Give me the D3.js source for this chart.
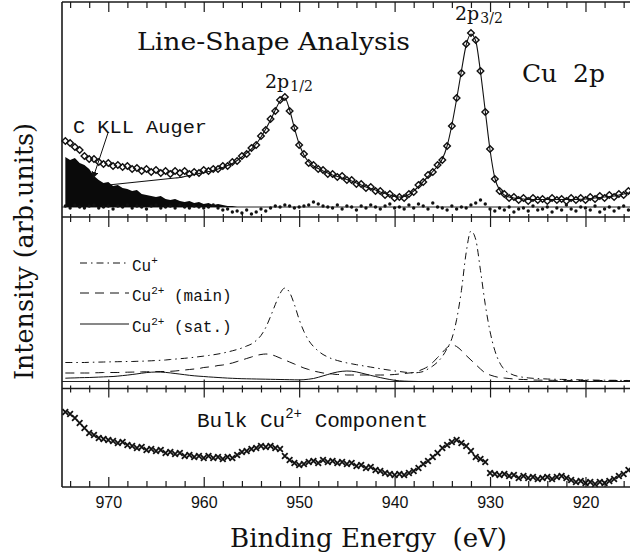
<!DOCTYPE html>
<html>
<head>
<meta charset="utf-8">
<script src="https://cdn.jsdelivr.net/npm/d3@7"></script>
<style>
  body { margin: 0; background: #fff; }
  text { fill: #111; }
</style>
</head>
<body>
<div id="chart"></div>
<script>
// Cu 2p spectrum, values on a 0.5 eV grid (974.5 -> 915.0 eV)
var energy = d3.range(974.5, 914.9, -0.5);

// top panel: measured data (diamonds), fit, residuals, C KLL Auger
var measured = [
  66,64,60,57,51,48,48,45,43,44,
  41,42,40,41,38,39,36,38,35,37,
  34,36,33,36,34,36,33,35,34,37,
  36,38,38,41,41,45,46,51,53,59,
  62,71,77,88,96,107,110,96,79,62,
  53,44,42,38,37,33,33,30,31,27,
  27,23,23,19,20,16,16,12,13,9,
  10,9,13,15,22,25,32,35,42,47,
  61,81,109,134,163,174,167,136,95,58,
  28,16,13,9,10,7,9,6,9,7,
  8,6,9,7,8,6,9,7,9,7,
  10,8,11,9,12,10,13,12,16,15
];
var fit = [
  null,null,null,null,null,null,null,null,null,22,
  22.5,23,23.5,24,24.5,25,25.5,26,26.5,27,
  27.5,28,28.5,29,29.5,30.5,31.5,32.5,33.5,34.5,
  35.5,36.5,38,39.5,41.5,43.5,46.5,50,54,58,
  63,70,78,87,97,106,109,97,79,63,
  52,45,41,38.5,36,34,32,30.5,29,27.5,
  26,24,22,20,18.5,17,15,13.5,12,10.5,
  10,10.5,12.5,16,20.5,25.5,30.5,35.5,41,48,
  61,82,108,136,162,173,166,135,96,57,
  29,17,12,10,9,8.5,8,7.5,7.5,7.5,
  7.5,7.5,7.5,7.5,7.5,7.5,7.5,7.5,7.7,8,
  8.5,9,9.5,10,10.5,11,12,13,14,15
];
var residual = [
  1,-1,2,0,-1,1,2,-1,0,1,
  -2,1,0,2,-1,1,0,-2,1,2,
  -1,0,1,-1,2,0,-1,1,0,-1,
  0,2,-1,-3,-2,-5,-4,-6,-3,-7,
  -5,-2,-4,-1,1,0,2,1,-1,0,
  1,2,5,3,1,0,-1,2,-2,1,
  0,-3,1,-1,2,0,-2,1,3,-1,
  0,-2,2,-1,3,1,-2,4,0,-1,
  -3,1,-2,0,-1,2,4,7,3,-2,
  -4,-1,-3,0,-5,-2,-1,-4,1,-3,
  -2,0,-5,-1,-3,2,-2,-4,0,-1,
  -3,1,-5,-2,0,-4,-1,1,-3,-2
];
var auger = [
  50,47,49,44,42,38,31,27,24,25,
  21,22,19,18,16,17,13,12,11,10,
  11,8,7,8,6,5,6,4,5,3,
  4,2,3,2,1,1,0
];

// middle panel: fitted components
var cuPlus = [
  19,19,19,19,19,19.2,19.3,19.4,19.5,19.6,
  19.7,19.8,19.9,20,20,20.2,20.3,20.5,20.7,21,
  21.2,21.5,22,22.4,22.8,23.2,23.7,24.2,24.8,25.4,
  26,26.7,27.5,28.4,29.5,30.7,32,33.5,35.5,37.5,
  41,46,54,65,77,88,93.5,89,77,62,
  50,41,35,30.5,27,24.5,22.5,21,19.7,18.6,
  17.7,16.8,16,15.2,14.4,13.6,12.8,12,11.3,10.6,
  10,9.4,8.9,8.6,9,10,12.5,15.5,19.5,25,
  33,43,62,91,129,150.5,142,111,77,50,
  31,19,12,8.5,6.3,5,4.2,3.6,3.2,2.9,
  2.7,2.5,2.3,2.2,2.1,2,1.9,1.8,1.7,1.6,
  1.5,1.4,1.3,1.3,1.2,1.2,1.1,1.1,1,1
];
var cu2Main = [
  8.5,8.5,8.5,8.5,8.5,8.5,8.7,8.8,9,9,
  9,9,9.2,9.3,9.4,9.5,9.6,9.7,9.8,9.9,
  10,10,10.2,10.5,11,11.5,12,12.5,13,14,
  14.5,15,16,16.5,17.5,18.5,20,21.5,23,24.5,
  26,27,27.5,27,25.5,23.5,21.5,19.5,17.5,15.5,
  13.5,12,10.5,9.5,8.5,8,7.5,7,7,6.5,
  6.5,6.5,6.5,6.5,6.5,6.5,6.5,6.5,6.7,7,
  7.5,8,8.5,9,10.5,12.5,15,19,24,29,
  34,36.5,35,31,26,21.5,17,12.5,8.5,6.5,
  5,4,3.5,3,2.5,2.2,2,1.8,1.5,1.4,
  1.3,1.2,1.2,1.1,1.1,1.1,1,1,1,1,
  1,1,1,1,1,1,1,1,1,1
];
var cu2Sat = [
  3.3,3.5,3.6,3.8,3.9,4,4.2,4.4,4.6,4.8,
  5,5.4,5.9,6.4,7,7.6,8.3,8.9,9.3,9.5,
  9.4,9.1,8.6,8,7.4,6.8,6.2,5.7,5.3,5,
  4.6,4.3,4,3.7,3.4,3.2,3,2.8,2.7,2.6,
  2.5,2.4,2.3,2.2,2.1,2,1.9,1.8,1.7,1.6,
  1.8,2.3,3,4.2,5.6,7,8.4,9.5,10.2,10.5,
  10.3,9.6,8.5,7.3,6.1,5,3.9,2.9,2,1.2,
  0.7,0.4,0.2,0.1,0,0,0,0,0,0,
  0,0,0,0,0,0,0,0,0,0,
  0,0,0,0,0,0,0,0,0,0,
  0,0,0,0,0,0,0,0,0,0,
  0,0,0,0,0,0,0,0,0,0
];

// bottom panel: bulk Cu2+ component
var bulk = [
  75,73,69,64,59,54,52,49,48,47,
  46,44,45,42,41,39,40,37,38,36,
  37,34,35,33,34,31,32,30,31,29,
  31,29,30,28,30,29,32,35,36,38,
  39,41,40,41,39,38,31,27,24,22,
  23,25,26,24,27,25,26,24,25,23,
  24,21,22,19,20,17,16,14,13,12,
  13,12,14,16,19,23,26,30,34,39,
  42,45,47,44,41,36,30,28,25,14,
  13,12,13,11,12,9,11,9,10,8,
  9,10,8,10,11,9,7,5,6,4,
  5,3,5,4,6,8,11,13,17,19
];

var majorTicks = [970, 960, 950, 940, 930, 920];
var minorTicks = d3.range(974, 914, -2).filter(function(d) { return d % 10 != 0; });

var width = 630, height = 558;
var serif = "'DejaVu Serif', serif";
var mono = "'Liberation Mono', monospace";

var svg = d3.select("#chart").append("svg")
  .attr("width", width)
  .attr("height", height);

// shared energy axis, reversed
var x = d3.scaleLinear().domain([974.85, 915]).range([62, 633.2]);
// one y scale per panel
var y1 = d3.scaleLinear().domain([-10, 205]).range([217, 2]);
var y2 = d3.scaleLinear().domain([-7, 164.5]).range([388.5, 217]);
var y3 = d3.scaleLinear().domain([0, 98]).range([487, 389]);

function pairs(vals) {
  return vals.map(function(v, i) { return [energy[i], v]; });
}
function lineFor(y) {
  return d3.line()
    .defined(function(d) { return d[1] != null; })
    .x(function(d) { return x(d[0]); })
    .y(function(d) { return y(d[1]); })
    .curve(d3.curveMonotoneX);
}

// frame lines
[2, 217, 388.5, 487].forEach(function(yy) {
  svg.append("line")
    .attr("x1", 62).attr("x2", 634)
    .attr("y1", yy).attr("y2", yy)
    .attr("stroke", "#1a1a1a").attr("stroke-width", 1.6);
});
svg.append("line")
  .attr("x1", 62).attr("x2", 62)
  .attr("y1", 2).attr("y2", 487)
  .attr("stroke", "#1a1a1a").attr("stroke-width", 1.6);

// zero lines of panel 1 and 2
svg.append("line").attr("x1", 62).attr("x2", 634)
  .attr("y1", y1(0)).attr("y2", y1(0))
  .attr("stroke", "#222").attr("stroke-width", 1);
svg.append("line").attr("x1", 62).attr("x2", 634)
  .attr("y1", y2(0)).attr("y2", y2(0))
  .attr("stroke", "#222").attr("stroke-width", 1.2);

// tick rows
function tickRow(yPos, values, up, down) {
  var g = svg.append("g")
    .attr("transform", "translate(0," + yPos + ")")
    .call(d3.axisBottom(x).tickValues(values).tickSize(0).tickFormat(""));
  g.select(".domain").remove();
  g.selectAll(".tick line")
    .attr("y1", -up).attr("y2", down)
    .attr("stroke", "#1a1a1a").attr("stroke-width", 1.2);
}
tickRow(2, minorTicks, 0, 6);
tickRow(2, majorTicks, 0, 10);
tickRow(217, minorTicks, 3, 5);
tickRow(217, majorTicks, 7, 10);
tickRow(388.5, minorTicks, 3, 4);
tickRow(388.5, majorTicks, 9, 9);
tickRow(487, minorTicks, 6, 0);
tickRow(487, majorTicks, 10, 0);

// bottom labels
var xAxis = svg.append("g")
  .attr("transform", "translate(0,487)")
  .call(d3.axisBottom(x).tickValues(majorTicks).tickSize(0).tickPadding(10));
xAxis.select(".domain").remove();
xAxis.selectAll("text")
  .style("font-family", "'Liberation Sans', sans-serif")
  .style("font-size", "16px")
  .attr("fill", "#222");

// ---- panel 1 ----
var augerArea = d3.area()
  .defined(function(d) { return d[1] != null; })
  .x(function(d) { return x(d[0]); })
  .y0(y1(0))
  .y1(function(d) { return y1(d[1]); });
svg.append("path")
  .datum(pairs(auger))
  .attr("d", augerArea)
  .attr("fill", "#0a0a0a");

svg.append("path")
  .datum(pairs(fit))
  .attr("d", lineFor(y1))
  .attr("fill", "none")
  .attr("stroke", "#111")
  .attr("stroke-width", 1.1);

svg.append("g").selectAll("path")
  .data(pairs(measured))
  .join("path")
  .attr("d", d3.symbol(d3.symbolSquare, 22))
  .attr("transform", function(d) { return "translate(" + x(d[0]) + "," + y1(d[1]) + ") rotate(45)"; })
  .attr("fill", "none")
  .attr("stroke", "#111")
  .attr("stroke-width", 1.4);

svg.append("g").selectAll("circle")
  .data(pairs(residual))
  .join("circle")
  .attr("cx", function(d) { return x(d[0]); })
  .attr("cy", function(d) { return y1(d[1]); })
  .attr("r", 1.7)
  .attr("fill", "#111");

// pointer for the Auger label
svg.append("defs").append("marker")
  .attr("id", "tip")
  .attr("viewBox", "0 0 10 10")
  .attr("refX", 9).attr("refY", 5)
  .attr("markerWidth", 7).attr("markerHeight", 7)
  .attr("markerUnits", "userSpaceOnUse")
  .attr("orient", "auto")
  .append("path").attr("d", "M0,0L10,5L0,10Z").attr("fill", "#111");
svg.append("line")
  .attr("x1", x(970.0)).attr("y1", y1(75))
  .attr("x2", x(971.6)).attr("y2", y1(29))
  .attr("stroke", "#111").attr("stroke-width", 1)
  .attr("marker-end", "url(#tip)");

svg.append("text")
  .attr("x", 137).attr("y", 50)
  .attr("textLength", 273).attr("lengthAdjust", "spacingAndGlyphs")
  .style("font-family", serif).style("font-size", "25px")
  .text("Line-Shape Analysis");

svg.append("text")
  .attr("x", 522).attr("y", 82)
  .attr("textLength", 83).attr("lengthAdjust", "spacingAndGlyphs")
  .style("font-family", serif).style("font-size", "24px")
  .attr("xml:space", "preserve")
  .text("Cu  2p");

function peakLabel(px, py, sub) {
  var t = svg.append("text")
    .attr("x", px).attr("y", py)
    .style("font-family", serif).style("font-size", "19px");
  t.append("tspan").text("2p");
  t.append("tspan").attr("dx", 1).attr("dy", 3).style("font-size", "14px").text(sub);
}
peakLabel(455, 20, "3/2");
peakLabel(265, 88, "1/2");

svg.append("text")
  .attr("x", 73).attr("y", 133)
  .attr("textLength", 134).attr("lengthAdjust", "spacingAndGlyphs")
  .style("font-family", mono).style("font-size", "19px")
  .text("C KLL Auger");

// ---- panel 2 ----
var styles = [
  { vals: cuPlus, dash: "7,4,1.5,4", label: "+", rest: "", ly: 263 },
  { vals: cu2Main, dash: "9,6", label: "2+", rest: " (main)", ly: 293 },
  { vals: cu2Sat, dash: null, label: "2+", rest: " (sat.)", ly: 324 }
];
styles.forEach(function(s) {
  svg.append("path")
    .datum(pairs(s.vals))
    .attr("d", lineFor(y2))
    .attr("fill", "none")
    .attr("stroke", "#111")
    .attr("stroke-width", 1)
    .attr("stroke-dasharray", s.dash);

  svg.append("line")
    .attr("x1", 80).attr("x2", 129)
    .attr("y1", s.ly).attr("y2", s.ly)
    .attr("stroke", "#111").attr("stroke-width", 1)
    .attr("stroke-dasharray", s.dash);

  var t = svg.append("text")
    .attr("x", 132).attr("y", s.ly + 8)
    .attr("xml:space", "preserve")
    .style("font-family", mono).style("font-size", "16px");
  t.append("tspan").text("Cu");
  t.append("tspan").attr("dy", -7).style("font-size", "11px").text(s.label);
  t.append("tspan").attr("dy", 7).text(s.rest);
});

// ---- panel 3 ----
svg.append("g").selectAll("path")
  .data(pairs(bulk))
  .join("path")
  .attr("d", d3.symbol(d3.symbolTimes, 22))
  .attr("transform", function(d) { return "translate(" + x(d[0]) + "," + y3(d[1]) + ")"; })
  .attr("fill", "none")
  .attr("stroke", "#111")
  .attr("stroke-width", 1.8);

var bt = svg.append("text")
  .attr("x", 197).attr("y", 427)
  .attr("xml:space", "preserve")
  .style("font-family", mono).style("font-size", "21px");
bt.append("tspan").text("Bulk Cu");
bt.append("tspan").attr("dy", -9).style("font-size", "14px").text("2+");
bt.append("tspan").attr("dy", 9).text(" Component");

// axis titles
svg.append("text")
  .attr("x", 230).attr("y", 547)
  .attr("textLength", 277).attr("lengthAdjust", "spacingAndGlyphs")
  .attr("xml:space", "preserve")
  .style("font-family", serif).style("font-size", "26px")
  .text("Binding Energy  (eV)");

svg.append("text")
  .attr("transform", "translate(33,380) rotate(-90)")
  .attr("textLength", 257).attr("lengthAdjust", "spacingAndGlyphs")
  .style("font-family", serif).style("font-size", "26px")
  .text("Intensity (arb.units)");
</script>
</body>
</html>
